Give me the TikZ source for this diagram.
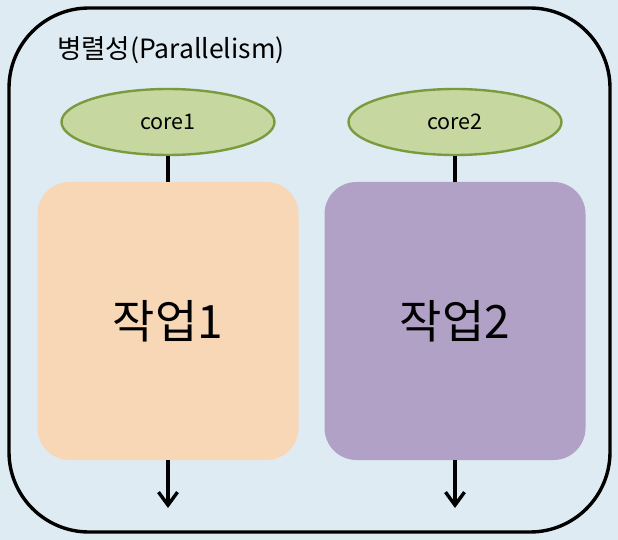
\documentclass[tikz,border=0pt]{standalone}
\usepackage{fontspec}
\setmainfont{Noto Sans CJK KR}
\usetikzlibrary{shapes.geometric,arrows.meta}
\definecolor{bgblue}{HTML}{DEEBF2}
\definecolor{corefill}{HTML}{C6D8A0}
\definecolor{coreedge}{HTML}{7A9A3E}
\definecolor{taskorange}{HTML}{F8D7B6}
\definecolor{taskpurple}{HTML}{B2A1C6}
\begin{document}
\begin{tikzpicture}[x=1pt, y=-1pt,
    core/.style={ellipse, draw=coreedge, fill=corefill, line width=2.4pt, minimum width=213pt, minimum height=66pt, inner sep=0pt, font=\fontsize{21.5}{24}\selectfont},
    task/.style={rounded corners=32pt, minimum width=261pt, minimum height=278pt, inner sep=0pt, font=\fontsize{46}{50}\selectfont},
    wire/.style={line width=3.4pt}]
    \fill [bgblue] (0, 0) rectangle (618, 540);
    \draw [line width=3.4pt, rounded corners=80pt] (9, 8) rectangle (610, 532);
    \node [anchor=west, inner sep=0pt, font=\fontsize{26.5}{30}\selectfont] (title) at (57, 50) {병렬성(Parallelism)};
    \node [core] (core1) at (168, 122) {core1};
    \node [core] (core2) at (455, 122) {core2};
    \node [task, fill=taskorange] (task1) at (168, 321) {작업1};
    \node [task, fill=taskpurple] (task2) at (455, 321) {작업2};
    \draw [wire] (core1) -- (task1);
    \draw [wire] (core2) -- (task2);
    \coordinate (out1) at (168, 508);
    \coordinate (out2) at (455, 508);
    \draw [wire, -{Straight Barb[length=13pt, width=19pt]}] (task1) -- (out1);
    \draw [wire, -{Straight Barb[length=13pt, width=19pt]}] (task2) -- (out2);
\end{tikzpicture}
\end{document}
